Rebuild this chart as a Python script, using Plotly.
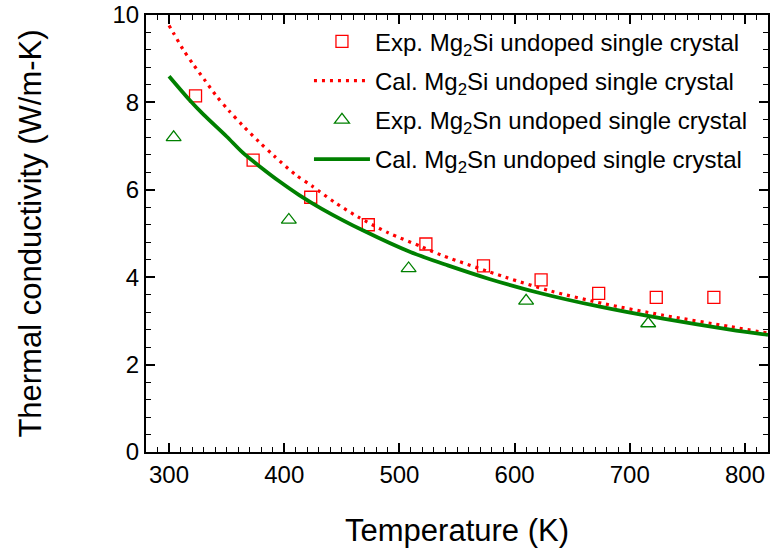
import plotly.graph_objects as go

# Experimental data
exp_si_T = [323, 373, 423, 473, 523, 573, 623, 673, 723, 773]
exp_si_k = [8.15, 6.68, 5.83, 5.20, 4.76, 4.26, 3.94, 3.63, 3.54, 3.54]
exp_sn_T = [304, 404, 508, 610, 716]
exp_sn_k = [7.20, 5.31, 4.20, 3.46, 2.94]

# Calculated curves
cal_si_T = [300, 304, 312, 321, 331, 341, 352, 364, 378, 391, 410, 424, 444, 464, 490, 519, 537, 592, 632, 678, 729, 787, 820]
cal_si_k = [9.76, 9.58, 9.22, 8.87, 8.51, 8.15, 7.81, 7.47, 7.10, 6.78, 6.34, 6.09, 5.71, 5.38, 5.02, 4.70, 4.50, 4.00, 3.68, 3.39, 3.13, 2.87, 2.72]
cal_sn_T = [300, 318, 330, 350, 364, 379, 396, 413, 433, 470, 510, 542, 578, 620, 673, 729, 787, 820]
cal_sn_k = [8.60, 8.05, 7.72, 7.22, 6.85, 6.53, 6.19, 5.88, 5.56, 5.05, 4.57, 4.27, 3.96, 3.65, 3.33, 3.05, 2.80, 2.68]

names = [
    "Exp. Mg<sub>2</sub>Si undoped single crystal",
    "Cal. Mg<sub>2</sub>Si undoped single crystal",
    "Exp. Mg<sub>2</sub>Sn undoped single crystal",
    "Cal. Mg<sub>2</sub>Sn undoped single crystal",
]

RED = "#ff0000"
GREEN = "#008000"
FONT = "Liberation Sans, Arial, sans-serif"

fig = go.Figure()
fig.add_trace(go.Scatter(x=exp_si_T, y=exp_si_k, mode="markers", name=names[0], legendgroup="a",
                         marker=dict(symbol="square-open", size=12, color=RED, line=dict(width=1.3, color=RED))))
fig.add_trace(go.Scatter(x=cal_si_T, y=cal_si_k, mode="lines", name=names[1], legendgroup="b",
                         line=dict(color=RED, width=3.2, dash="3px,5px", shape="spline", smoothing=0.8)))
fig.add_trace(go.Scatter(x=exp_sn_T, y=exp_sn_k, mode="markers", name=names[2], legendgroup="c",
                         marker=dict(symbol="triangle-up-open", size=13, color=GREEN, line=dict(width=1.3, color=GREEN))))
fig.add_trace(go.Scatter(x=cal_sn_T, y=cal_sn_k, mode="lines", name=names[3], legendgroup="d",
                         line=dict(color=GREEN, width=3.8, shape="spline", smoothing=0.8)))

axis_common = dict(
    showline=True, linecolor="black", linewidth=2, mirror="allticks",
    ticks="inside", ticklen=9, tickwidth=1.5, tickcolor="black",
    showgrid=False, zeroline=False,
    tickfont=dict(family=FONT, size=24, color="black"),
)

fig.update_xaxes(range=[280, 820], dtick=100, tick0=0,
                 minor=dict(ticks="inside", ticklen=5, tickwidth=1.2, tickcolor="black", dtick=10, showgrid=False),
                 title=dict(text="Temperature (K)", font=dict(family=FONT, size=31, color="black"), standoff=33),
                 **axis_common)
fig.update_yaxes(range=[0, 10], dtick=2, tick0=0,
                 minor=dict(ticks="inside", ticklen=5, tickwidth=1.2, tickcolor="black", dtick=0.4, showgrid=False),
                 title=dict(text="Thermal conductivity (W/m-K)", font=dict(family=FONT, size=31, color="black"), standoff=62),
                 **axis_common)

fig.update_layout(
    width=771, height=552,
    margin=dict(l=146, r=1, t=15, b=100),
    paper_bgcolor="white", plot_bgcolor="white",
    showlegend=True,
    legend=dict(x=0.262, y=0.99, xanchor="left", yanchor="top",
                bgcolor="rgba(0,0,0,0)", borderwidth=0,
                font=dict(family=FONT, size=24, color="black"),
                itemwidth=56, tracegroupgap=5, traceorder="grouped"),
)

fig.write_html("out.html")
